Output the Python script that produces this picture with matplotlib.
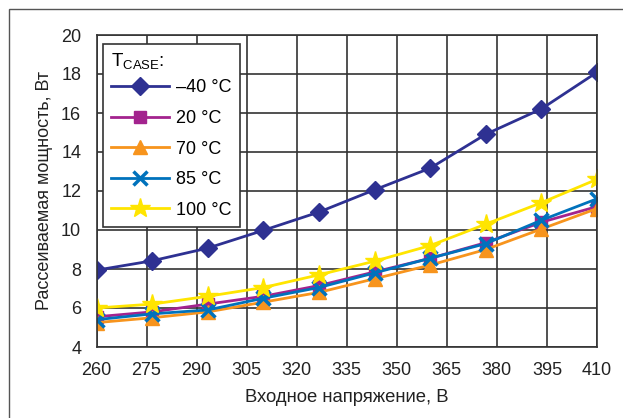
import matplotlib
matplotlib.use("Agg")
import matplotlib.pyplot as plt
from matplotlib.patches import Rectangle

plt.rcParams["font.family"] = ["Liberation Sans", "DejaVu Sans"]

# входное напряжение, В (10 точек от 260 до 410)
napr = [260, 276.67, 293.33, 310, 326.67, 343.33, 360, 376.67, 393.33, 410]

p_m40 = [7.94, 8.42, 9.07, 9.98, 10.92, 12.06, 13.17, 14.91, 16.21, 18.09]
p_20 = [5.55, 5.8, 6.2, 6.6, 7.15, 7.85, 8.55, 9.35, 10.4, 11.2]
p_70 = [5.25, 5.5, 5.8, 6.3, 6.8, 7.5, 8.2, 9.0, 10.05, 11.1]
p_85 = [5.4, 5.7, 5.9, 6.5, 7.05, 7.8, 8.55, 9.3, 10.5, 11.6]
p_100 = [6.0, 6.2, 6.6, 7.05, 7.7, 8.4, 9.2, 10.3, 11.4, 12.6]

xticks = list(range(260, 411, 15))
yticks = list(range(4, 21, 2))

fig = plt.figure(figsize=(6.23, 4.18), dpi=100)
ax = fig.add_axes([96.5 / 623, 1 - 347 / 418, (597 - 96.5) / 623, (347 - 35) / 418])

# рамка вокруг рисунка
fig.patches.append(Rectangle((9 / 623, -0.1), 1.2, 1 - 9 / 418 + 0.1, transform=fig.transFigure,
                             fill=False, edgecolor="#555555", linewidth=1.0))

ax.plot(napr, p_m40, color="#2E3192", lw=2, marker="D", ms=9, label="\u201340 °C")
ax.plot(napr, p_20, color="#A3238E", lw=2, marker="s", ms=9, label="20 °C")
ax.plot(napr, p_70, color="#F7941D", lw=2, marker="^", ms=10, label="70 °C")
ax.plot(napr, p_85, color="#0072BC", lw=2, marker="x", ms=10, mew=2.5, label="85 °C")
ax.plot(napr, p_100, color="#FFE500", lw=2, marker="*", ms=15, label="100 °C")

ax.set_xlim(260, 410)
ax.set_ylim(4, 20)
ax.set_xticks(xticks)
ax.set_yticks(yticks)
ax.grid(True, color="#333333", lw=1.2)
ax.set_axisbelow(True)
for s in ax.spines.values():
    s.set_color("#333333")
    s.set_linewidth(1.2)
ax.tick_params(length=0, labelsize=13, colors="#222222")
ax.tick_params(axis="x", pad=11)
ax.tick_params(axis="y", pad=11)

ax.set_xlabel("Входное напряжение, В", fontsize=13.3, color="#222222", labelpad=7)
ax.set_ylabel("Рассеиваемая мощность, Вт", fontsize=13, color="#222222", labelpad=6)

leg = ax.legend(title=r"T$_\mathregular{CASE}$:", loc="upper left", bbox_to_anchor=(0.013, 0.971),
                borderaxespad=0, fontsize=13, title_fontsize=13.5, frameon=True, fancybox=False,
                edgecolor="#333333", framealpha=1, handlelength=3.2, handletextpad=0.4,
                labelspacing=0.75, borderpad=0.45, alignment="left")
leg.get_frame().set_linewidth(1.2)
leg._legend_box.sep = 5  # зазор между заголовком и строками

fig.savefig("out.png", dpi=100)
